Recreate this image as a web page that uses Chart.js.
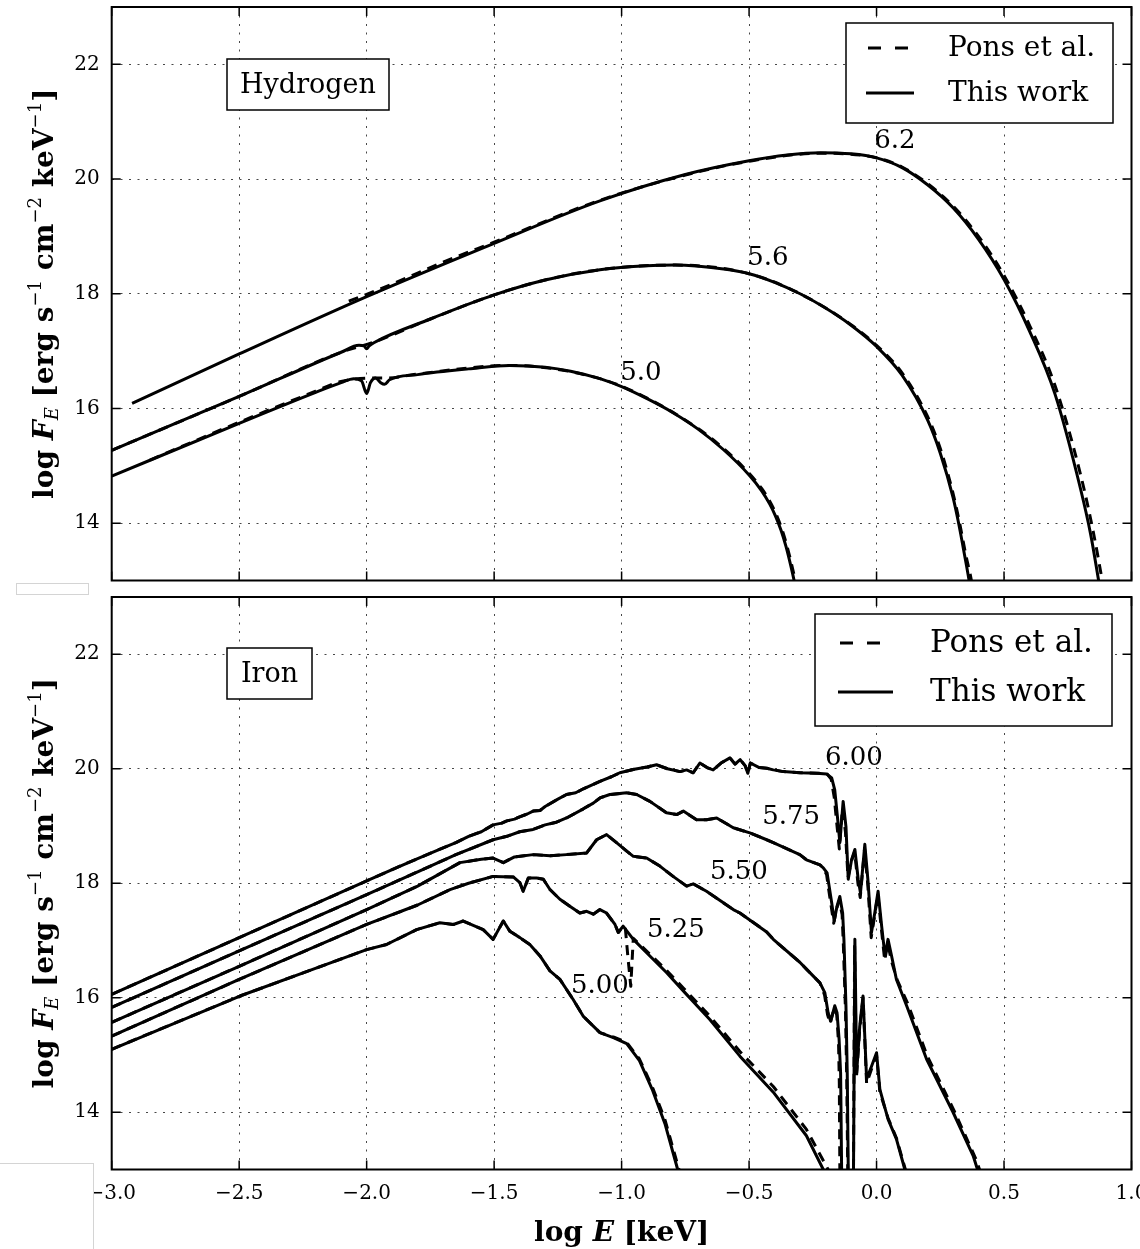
<!DOCTYPE html>
<html>
<head>
<meta charset="utf-8">
<script src="https://cdn.jsdelivr.net/npm/chart.js@4.4.0/dist/chart.umd.min.js"></script>
<style>
  body { margin: 0; background: #fff; width: 1140px; height: 1249px; position: relative; overflow: hidden; }
  canvas { position: absolute; left: 0; }
  #hydrogen { top: 0; }
  #iron { top: 590px; }
  .patch { position: absolute; background: #fff; border: 1px solid #d4d4d4; }
</style>
</head>
<body>
<canvas id="hydrogen" width="1140" height="590"></canvas>
<canvas id="iron" width="1140" height="659"></canvas>
<div class="patch" style="left:16px;top:583px;width:71px;height:10px"></div>
<div class="patch" style="left:-2px;top:1163px;width:94px;height:100px"></div>
<script>
(function () {
    "use strict";

    var serif = '"DejaVu Serif", serif';

    // axis ticks
    var xTicks = [-3.0, -2.5, -2.0, -1.5, -1.0, -0.5, 0.0, 0.5, 1.0];
    var yTicks = [14, 16, 18, 20, 22];

    // Hydrogen atmosphere, log T = 6.2 / 5.6 / 5.0  (log E, log F_E)
    var h62 = [[-2.92,16.09],[-2.5,16.95],[-2.0,17.95],[-1.5,18.88],[-1.085,19.62],[-0.75,20.08],[-0.5,20.32],[-0.35,20.42],[-0.22,20.46],[-0.1,20.44],[0.0,20.37],[0.1,20.2],[0.2,19.9],[0.3,19.5],[0.4,18.95],[0.5,18.25],[0.6,17.35],[0.7,16.25],[0.8,14.6],[0.84,13.8],[0.871,13.0],[0.89,12.5]];
    var h56 = [[-3.0,15.27],[-2.5,16.21],[-2.1,16.98],[-2.03,17.1],[-2.01,17.09],[-2.0,17.04],[-1.99,17.09],[-1.97,17.15],[-1.75,17.56],[-1.5,17.98],[-1.3,18.24],[-1.085,18.42],[-0.9,18.49],[-0.79,18.5],[-0.6,18.43],[-0.5,18.35],[-0.4,18.2],[-0.3,18.0],[-0.2,17.75],[-0.1,17.45],[0.0,17.08],[0.1,16.58],[0.2,15.8],[0.25,15.22],[0.3,14.45],[0.321,14.02],[0.345,13.45],[0.363,13.0],[0.38,12.5]];
    var h50 = [[-3.0,14.82],[-2.5,15.74],[-2.2,16.28],[-2.1,16.45],[-2.05,16.52],[-2.02,16.48],[-2.0,16.26],[-1.985,16.45],[-1.965,16.53],[-1.945,16.45],[-1.93,16.42],[-1.91,16.5],[-1.8,16.59],[-1.6,16.69],[-1.44,16.75],[-1.3,16.72],[-1.2,16.65],[-1.085,16.52],[-1.0,16.38],[-0.9,16.17],[-0.8,15.93],[-0.7,15.64],[-0.6,15.28],[-0.5,14.84],[-0.45,14.56],[-0.42,14.34],[-0.398,14.14],[-0.375,13.88],[-0.355,13.59],[-0.336,13.25],[-0.32,12.93],[-0.31,12.7]];
    // Pons et al. (hydrogen)
    var h62Pons = [[-2.07,17.87],[-2.0,17.99],[-1.9,18.17],[-1.8,18.36],[-1.7,18.55],[-1.5,18.9],[-1.085,19.63],[-0.75,20.07],[-0.5,20.31],[-0.22,20.45],[0.0,20.37],[0.1,20.21],[0.2,19.92],[0.3,19.53],[0.4,19.0],[0.5,18.32],[0.6,17.45],[0.7,16.4],[0.8,14.85],[0.85,13.85],[0.885,13.0],[0.9,12.6]];
    var h56Pons = [[-3.0,15.27],[-2.5,16.21],[-2.1,16.98],[-1.97,17.16],[-1.75,17.56],[-1.5,17.98],[-1.3,18.24],[-1.085,18.42],[-0.79,18.5],[-0.5,18.35],[-0.3,18.0],[-0.1,17.46],[0.0,17.1],[0.1,16.62],[0.2,15.86],[0.25,15.3],[0.3,14.52],[0.325,14.02],[0.35,13.45],[0.372,13.0],[0.39,12.5]];
    var h50Pons = [[-2.85,15.1],[-2.5,15.76],[-2.2,16.3],[-2.1,16.47],[-1.96,16.53],[-1.92,16.53],[-1.8,16.6],[-1.44,16.75],[-1.085,16.52],[-0.9,16.18],[-0.7,15.65],[-0.6,15.3],[-0.5,14.87],[-0.45,14.6],[-0.42,14.39],[-0.395,14.17],[-0.37,13.88],[-0.35,13.58],[-0.331,13.24],[-0.315,12.92],[-0.305,12.7]];

    // Iron atmosphere, log T = 6.00 / 5.75 / 5.50 / 5.25 / 5.00
    var fe600 = [[-3.0,16.06],[-2.5,17.05],[-2.0,18.04],[-1.9,18.24],[-1.8,18.43],[-1.7,18.62],[-1.65,18.71],[-1.6,18.82],[-1.55,18.9],[-1.504,19.02],[-1.47,19.05],[-1.45,19.09],[-1.42,19.12],[-1.4,19.16],[-1.37,19.21],[-1.347,19.26],[-1.32,19.27],[-1.3,19.34],[-1.25,19.47],[-1.216,19.55],[-1.18,19.58],[-1.15,19.65],[-1.085,19.78],[-1.04,19.86],[-1.007,19.93],[-0.95,19.99],[-0.9,20.03],[-0.863,20.07],[-0.82,20.0],[-0.771,19.95],[-0.745,19.98],[-0.719,19.93],[-0.693,20.1],[-0.665,20.02],[-0.641,19.98],[-0.61,20.1],[-0.575,20.19],[-0.555,20.08],[-0.535,20.16],[-0.515,20.05],[-0.505,19.92],[-0.495,20.1],[-0.46,20.02],[-0.431,20.01],[-0.405,19.98],[-0.366,19.95],[-0.3,19.93],[-0.235,19.92],[-0.196,19.91],[-0.176,19.84],[-0.164,19.63],[-0.151,19.05],[-0.144,18.71],[-0.131,19.43],[-0.12,18.99],[-0.111,18.07],[-0.098,18.41],[-0.085,18.59],[-0.072,18.07],[-0.063,17.83],[-0.046,18.68],[-0.033,18.01],[-0.02,17.14],[-0.007,17.48],[0.006,17.86],[0.02,17.25],[0.033,16.73],[0.045,17.02],[0.059,16.73],[0.078,16.32],[0.118,15.86],[0.196,14.93],[0.3,14.0],[0.379,13.24],[0.41,12.8]];
    var fe575 = [[-3.0,15.83],[-2.5,16.82],[-2.0,17.8],[-1.8,18.2],[-1.65,18.5],[-1.504,18.76],[-1.45,18.82],[-1.4,18.9],[-1.347,18.94],[-1.3,19.02],[-1.26,19.06],[-1.216,19.14],[-1.15,19.3],[-1.111,19.4],[-1.085,19.49],[-1.046,19.55],[-0.98,19.58],[-0.941,19.55],[-0.889,19.43],[-0.824,19.23],[-0.784,19.2],[-0.758,19.26],[-0.706,19.11],[-0.667,19.11],[-0.627,19.14],[-0.562,18.97],[-0.497,18.88],[-0.431,18.76],[-0.405,18.71],[-0.301,18.5],[-0.275,18.41],[-0.222,18.32],[-0.209,18.27],[-0.194,18.18],[-0.186,17.95],[-0.176,17.66],[-0.166,17.34],[-0.155,17.6],[-0.144,17.77],[-0.133,17.48],[-0.128,17.02],[-0.12,15.86],[-0.115,14.69],[-0.111,13.0],[-0.106,12.5],[-0.091,12.5],[-0.085,17.02],[-0.078,14.69],[-0.066,15.5],[-0.053,16.03],[-0.039,14.58],[-0.02,14.8],[0.0,15.04],[0.013,14.4],[0.045,13.88],[0.078,13.53],[0.111,13.0],[0.125,12.7]];
    var fe550 = [[-3.0,15.57],[-2.5,16.55],[-2.0,17.54],[-1.8,17.95],[-1.634,18.36],[-1.55,18.42],[-1.504,18.44],[-1.464,18.36],[-1.42,18.46],[-1.347,18.5],[-1.28,18.48],[-1.216,18.5],[-1.137,18.53],[-1.098,18.76],[-1.059,18.85],[-1.02,18.71],[-0.98,18.56],[-0.954,18.47],[-0.902,18.44],[-0.85,18.3],[-0.798,18.12],[-0.745,17.95],[-0.719,17.99],[-0.667,17.86],[-0.562,17.54],[-0.536,17.48],[-0.431,17.15],[-0.405,17.02],[-0.301,16.62],[-0.275,16.5],[-0.222,16.26],[-0.203,16.09],[-0.19,15.74],[-0.18,15.59],[-0.164,15.86],[-0.155,15.74],[-0.147,15.28],[-0.141,14.69],[-0.137,13.0],[-0.134,12.5]];
    var fe525 = [[-3.0,15.33],[-2.5,16.32],[-2.0,17.28],[-1.8,17.62],[-1.673,17.89],[-1.6,18.0],[-1.504,18.12],[-1.425,18.11],[-1.399,18.01],[-1.386,17.86],[-1.366,18.09],[-1.333,18.09],[-1.307,18.07],[-1.281,17.89],[-1.242,17.72],[-1.203,17.6],[-1.164,17.48],[-1.137,17.51],[-1.111,17.46],[-1.085,17.54],[-1.059,17.48],[-1.026,17.28],[-1.013,17.14],[-0.994,17.25],[-0.954,17.02],[-0.889,16.73],[-0.824,16.44],[-0.758,16.12],[-0.654,15.62],[-0.536,14.98],[-0.405,14.35],[-0.275,13.59],[-0.209,13.0],[-0.19,12.8]];
    var fe500 = [[-3.0,15.1],[-2.497,16.03],[-2.209,16.5],[-2.0,16.84],[-1.922,16.93],[-1.804,17.19],[-1.713,17.31],[-1.66,17.28],[-1.621,17.34],[-1.543,17.19],[-1.504,17.02],[-1.464,17.34],[-1.438,17.16],[-1.399,17.05],[-1.36,16.93],[-1.32,16.73],[-1.281,16.47],[-1.242,16.32],[-1.19,15.97],[-1.151,15.68],[-1.085,15.39],[-1.03,15.3],[-0.98,15.2],[-0.93,14.9],[-0.88,14.4],[-0.83,13.8],[-0.78,13.0],[-0.76,12.7]];
    // Pons et al. (iron): where they part from this work
    var fe600PonsTail = [[-0.196,19.92],[-0.178,19.82],[-0.166,19.5],[-0.155,19.0],[-0.146,18.6],[-0.134,19.3],[-0.122,18.9],[-0.112,18.1],[-0.099,18.38],[-0.086,18.55],[-0.073,18.0],[-0.064,17.75],[-0.047,18.6],[-0.034,17.95],[-0.021,17.05],[-0.008,17.42],[0.005,17.8],[0.019,17.2],[0.032,16.65],[0.044,16.95],[0.058,16.65],[0.08,16.32],[0.122,15.9],[0.2,14.97],[0.305,14.02],[0.388,13.2],[0.42,12.8]];
    var fe575PonsTail = [[-0.209,18.27],[-0.196,18.15],[-0.188,17.9],[-0.178,17.6],[-0.168,17.3],[-0.157,17.55],[-0.146,17.7],[-0.135,17.45],[-0.13,16.9],[-0.122,15.8],[-0.117,14.6],[-0.113,13.0],[-0.11,12.5],[-0.091,12.5],[-0.086,16.9],[-0.079,14.6],[-0.066,15.45],[-0.053,16.0],[-0.039,14.5],[-0.02,14.75],[0.0,15.0],[0.013,14.35],[0.045,13.9],[0.078,13.55],[0.113,13.0],[0.128,12.7]];
    var fe550PonsTail = [[-0.222,16.26],[-0.204,16.05],[-0.192,15.7],[-0.182,15.55],[-0.166,15.82],[-0.156,15.7],[-0.149,15.2],[-0.146,14.5],[-0.144,13.0],[-0.143,12.5]];
    var fe525PonsTail = [[-0.994,17.25],[-0.985,17.2],[-0.975,16.7],[-0.964,16.2],[-0.957,16.8],[-0.954,17.04],[-0.889,16.76],[-0.824,16.48],[-0.758,16.17],[-0.654,15.68],[-0.536,15.06],[-0.405,14.45],[-0.275,13.7],[-0.19,13.0],[-0.17,12.7]];
    var fe500PonsTail = [[-1.085,15.39],[-1.03,15.31],[-0.98,15.22],[-0.93,14.93],[-0.88,14.45],[-0.83,13.87],[-0.775,13.0],[-0.755,12.7]];

    // curve labels (log T) at data positions
    var hLabels = [['6.2', 0.072, 20.66], ['5.6', -0.426, 18.62], ['5.0', -0.924, 16.62]];
    var feLabels = [['6.00', -0.089, 20.18], ['5.75', -0.335, 19.16], ['5.50', -0.54, 18.19], ['5.25', -0.787, 17.18], ['5.00', -1.085, 16.2]];

    function withTail(full, tail) {
        return full.filter(function (p) { return p[0] < tail[0][0]; }).concat(tail);
    }

    function curve(points, dashed, smooth) {
        return {
            data: points.map(function (p) { return {x: p[0], y: p[1]}; }),
            showLine: true,
            borderColor: '#000',
            borderWidth: 3,
            borderDash: dashed ? [10, 7] : [],
            borderJoinStyle: 'round',
            pointRadius: 0,
            fill: false,
            tension: 0,
            cubicInterpolationMode: smooth ? 'monotone' : 'default'
        };
    }

    function fmtX(v) {
        return (v < 0 ? '\u2212' : '') + Math.abs(v).toFixed(1);
    }

    function richText(ctx, parts, x, y) {
        var total = 0;
        parts.forEach(function (p) { ctx.font = p.f; p.w = ctx.measureText(p.t).width; total += p.w; });
        var cx = x - total / 2;
        parts.forEach(function (p) { ctx.font = p.f; ctx.fillText(p.t, cx, y + (p.dy || 0)); cx += p.w; });
    }

    var big = 'bold 28px ' + serif, sup = '18px ' + serif;
    var yTitle = [
        {t: 'log ', f: big}, {t: 'F', f: 'italic bold 28px ' + serif}, {t: 'E', f: 'italic 18px ' + serif, dy: 5},
        {t: ' [erg s', f: big}, {t: '\u22121', f: sup, dy: -12},
        {t: ' cm', f: big}, {t: '\u22122', f: sup, dy: -12},
        {t: ' keV', f: big}, {t: '\u22121', f: sup, dy: -12}, {t: ']', f: big}
    ];
    var xTitle = [
        {t: 'log ', f: 'bold 28px ' + serif}, {t: 'E', f: 'italic bold 28px ' + serif}, {t: ' [keV]', f: 'bold 28px ' + serif}
    ];

    var decor = {
        id: 'decor',
        afterDraw: function (chart, args, o) {
            var ctx = chart.ctx, a = chart.chartArea, sx = chart.scales.x, sy = chart.scales.y;
            ctx.save();
            ctx.strokeStyle = '#000';
            ctx.fillStyle = '#000';

            // inward major ticks on all four sides
            ctx.lineWidth = 1.5;
            ctx.beginPath();
            sx.ticks.forEach(function (t) {
                var px = sx.getPixelForValue(t.value);
                ctx.moveTo(px, a.top); ctx.lineTo(px, a.top + 9);
                ctx.moveTo(px, a.bottom); ctx.lineTo(px, a.bottom - 9);
            });
            sy.ticks.forEach(function (t) {
                var py = sy.getPixelForValue(t.value);
                ctx.moveTo(a.left, py); ctx.lineTo(a.left + 9, py);
                ctx.moveTo(a.right, py); ctx.lineTo(a.right - 9, py);
            });
            ctx.stroke();

            ctx.lineWidth = 2;
            ctx.strokeRect(a.left, a.top, a.right - a.left, a.bottom - a.top);

            // element box
            var b = o.box;
            ctx.fillStyle = '#fff';
            ctx.fillRect(b.x, b.y, b.w, b.h);
            ctx.lineWidth = 1.5;
            ctx.strokeRect(b.x, b.y, b.w, b.h);
            ctx.fillStyle = '#000';
            ctx.font = '27px ' + serif;
            ctx.textAlign = 'center';
            ctx.textBaseline = 'middle';
            ctx.fillText(b.text, b.x + b.w / 2, b.y + b.h / 2 + 1);

            // legend
            var lg = o.legend;
            ctx.fillStyle = '#fff';
            ctx.fillRect(lg.x, lg.y, lg.w, lg.h);
            ctx.strokeRect(lg.x, lg.y, lg.w, lg.h);
            ctx.lineWidth = 3;
            ctx.setLineDash([13, 14]);
            ctx.beginPath();
            ctx.moveTo(lg.x + lg.d0, lg.y + lg.r1); ctx.lineTo(lg.x + lg.d0 + 40, lg.y + lg.r1);
            ctx.stroke();
            ctx.setLineDash([]);
            ctx.beginPath();
            ctx.moveTo(lg.x + lg.s0, lg.y + lg.r2); ctx.lineTo(lg.x + lg.s1, lg.y + lg.r2);
            ctx.stroke();
            ctx.fillStyle = '#000';
            ctx.textAlign = 'left';
            ctx.font = lg.size + 'px ' + serif;
            ctx.fillText('Pons et al.', lg.x + lg.tx, lg.y + lg.r1 + 1);
            ctx.fillText('This work', lg.x + lg.tx, lg.y + lg.r2 + 1);

            // curve labels
            ctx.textAlign = 'center';
            ctx.font = '26px ' + serif;
            o.labels.forEach(function (l) {
                ctx.fillText(l[0], sx.getPixelForValue(l[1]), sy.getPixelForValue(l[2]));
            });

            // axis titles
            ctx.textAlign = 'left';
            ctx.textBaseline = 'alphabetic';
            ctx.save();
            ctx.translate(53, (a.top + a.bottom) / 2);
            ctx.rotate(-Math.PI / 2);
            richText(ctx, yTitle, 0, 0);
            ctx.restore();
            if (o.xTitle) {
                richText(ctx, xTitle, (a.left + a.right) / 2, 651);
            }
            ctx.restore();
        }
    };

    function panel(id, datasets, o) {
        return new Chart(document.getElementById(id), {
            type: 'scatter',
            data: {datasets: datasets},
            options: {
                responsive: false,
                animation: false,
                events: [],
                layout: {padding: {top: 7, right: 8.5, bottom: o.padBottom, left: 0}},
                plugins: {legend: {display: false}, tooltip: {enabled: false}, decor: o},
                scales: {
                    x: {
                        type: 'linear', min: -3, max: 1,
                        afterBuildTicks: function (s) { s.ticks = xTicks.map(function (v) { return {value: v}; }); },
                        afterFit: function (s) { s.height = o.xHeight; s.paddingLeft = 0; s.paddingRight = 0; },
                        grid: {color: 'rgba(0,0,0,0.72)', lineWidth: 1, drawTicks: false},
                        border: {display: false, dash: [2, 6.5]},
                        ticks: {display: o.xTitle, autoSkip: false, maxRotation: 0, padding: 12, color: '#000',
                                font: {family: serif, size: 20}, callback: fmtX}
                    },
                    y: {
                        type: 'linear', min: 13, max: 23,
                        afterBuildTicks: function (s) { s.ticks = yTicks.map(function (v) { return {value: v}; }); },
                        afterFit: function (s) { s.width = 111.7; s.paddingTop = 0; s.paddingBottom = 0; },
                        grid: {color: 'rgba(0,0,0,0.72)', lineWidth: 1, drawTicks: false},
                        border: {display: false, dash: [2, 6.5]},
                        ticks: {padding: 12, color: '#000', font: {family: serif, size: 20},
                                callback: function (v) { return String(v); }}
                    }
                }
            },
            plugins: [decor]
        });
    }

    panel('hydrogen', [
        curve(h62, false, true), curve(h56, false, true), curve(h50, false, true),
        curve(h62Pons, true, true), curve(h56Pons, true, true), curve(h50Pons, true, true)
    ], {
        padBottom: 9.5, xHeight: 0, xTitle: false,
        box: {x: 227, y: 59, w: 162, h: 51, text: 'Hydrogen'},
        legend: {x: 846, y: 23, w: 267, h: 100, r1: 25, r2: 70, d0: 22, s0: 20, s1: 68, tx: 102, size: 28},
        labels: hLabels
    });

    panel('iron', [
        curve(fe600, false, false), curve(fe575, false, false), curve(fe550, false, false),
        curve(fe525, false, false), curve(fe500, false, false),
        curve(withTail(fe600, fe600PonsTail), true, false), curve(withTail(fe575, fe575PonsTail), true, false),
        curve(withTail(fe550, fe550PonsTail), true, false), curve(withTail(fe525, fe525PonsTail), true, false),
        curve(withTail(fe500, fe500PonsTail), true, false)
    ], {
        padBottom: 0, xHeight: 79.5, xTitle: true,
        box: {x: 227, y: 58, w: 85, h: 51, text: 'Iron'},
        legend: {x: 815, y: 24, w: 297, h: 112, r1: 29, r2: 78, d0: 25, s0: 23, s1: 78, tx: 115, size: 31},
        labels: feLabels
    });
})();
</script>
</body>
</html>
